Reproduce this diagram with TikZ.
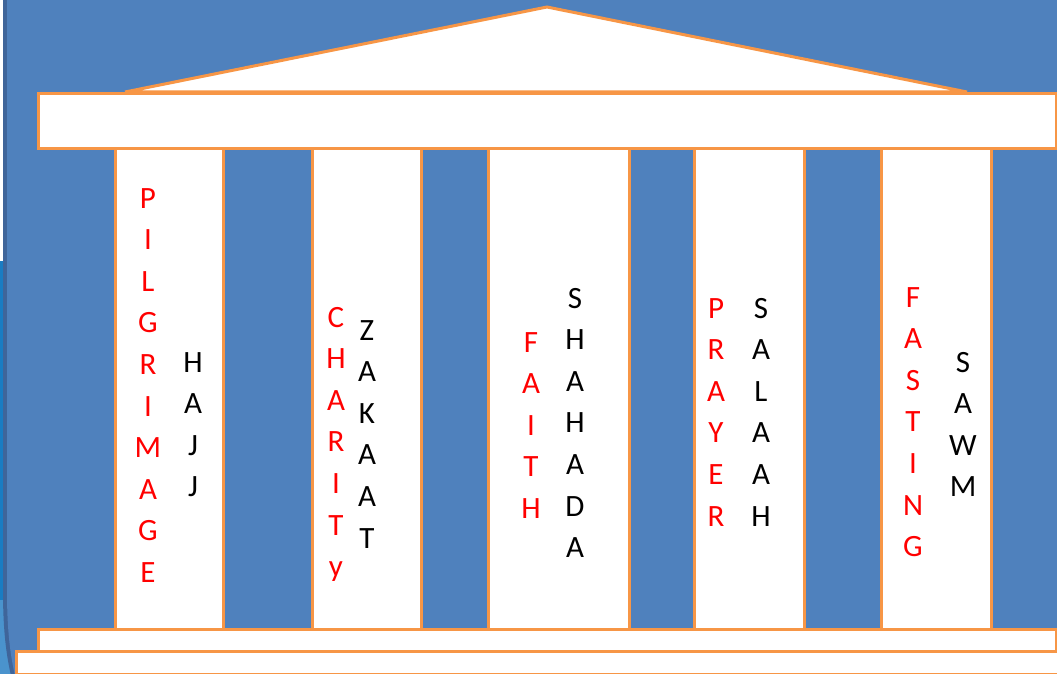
\documentclass[tikz,border=0pt]{standalone}
\usepackage{fontspec}
\setmainfont{Carlito}
\definecolor{slideblue}{HTML}{4F81BD}
\definecolor{shadowblue}{HTML}{3F659A}
\definecolor{edgeblue}{HTML}{1A7CC2}
\definecolor{lightblue}{HTML}{4A93CD}
\definecolor{pillarline}{HTML}{F79646}
\definecolor{redtext}{HTML}{FF0000}
\tikzset{
  part/.style={draw=pillarline, fill=white, line width=3pt, line join=miter},
  letters/.style={anchor=base, inner sep=0pt, font=\fontsize{31}{41.6}\selectfont},
  engl/.style={letters, text=redtext},
  arab/.style={letters, text=black}
}
\begin{document}
\begin{tikzpicture}[x=1pt,y=-1pt]
\useasboundingbox (0,0) rectangle (1057,674);
% background
\fill[white] (0,0) rectangle (1057,674);
\fill[edgeblue] (0,261) rectangle (8,674);
\fill[lightblue] (0,600) rectangle (30,674);
\fill[shadowblue] (3,-5) -- (3,590) .. controls (3,630) and (6,655) .. (12,680) -- (1060,680) -- (1060,-5) -- cycle;
\fill[slideblue] (7,-5) -- (7,590) .. controls (7,630) and (10,655) .. (16,680) -- (1060,680) -- (1060,-5) -- cycle;
% roof
\filldraw[part] (125,92) -- (547,7) -- (967,92) -- cycle;
% columns
\node[part, minimum width=108pt, minimum height=481pt, inner sep=0pt, anchor=north west] (c1) at (114,147) {};
\node[part, minimum width=109pt, minimum height=481pt, inner sep=0pt, anchor=north west] (c2) at (311,147) {};
\node[part, minimum width=141pt, minimum height=481pt, inner sep=0pt, anchor=north west] (c3) at (487,147) {};
\node[part, minimum width=110pt, minimum height=481pt, inner sep=0pt, anchor=north west] (c4) at (693,147) {};
\node[part, minimum width=110pt, minimum height=481pt, inner sep=0pt, anchor=north west] (c5) at (880,147) {};
% entablature
\node[part, minimum width=1018pt, minimum height=55pt, inner sep=0pt, anchor=north west] (beam) at (37,92) {};
% steps
\node[part, minimum width=1018pt, minimum height=22pt, inner sep=0pt, anchor=north west] (step1) at (37,628) {};
\node[part, minimum width=1060pt, minimum height=23pt, inner sep=0pt, anchor=north west] (step2) at (15,650) {};
% texts
\node[engl] (t1) at (148,208) {\begin{tabular}[t]{@{}c@{}}P\\I\\L\\G\\R\\I\\M\\A\\G\\E\end{tabular}};
\node[arab] (a1) at (193,372) {\begin{tabular}[t]{@{}c@{}}H\\A\\J\\J\end{tabular}};
\node[engl] (t2) at (336,327) {\begin{tabular}[t]{@{}c@{}}C\\H\\A\\R\\I\\T\\y\end{tabular}};
\node[arab] (a2) at (367,340) {\begin{tabular}[t]{@{}c@{}}Z\\A\\K\\A\\A\\T\end{tabular}};
\node[engl] (t3) at (531,352) {\begin{tabular}[t]{@{}c@{}}F\\A\\I\\T\\H\end{tabular}};
\node[arab] (a3) at (575,308) {\begin{tabular}[t]{@{}c@{}}S\\H\\A\\H\\A\\D\\A\end{tabular}};
\node[engl] (t4) at (716,318) {\begin{tabular}[t]{@{}c@{}}P\\R\\A\\Y\\E\\R\end{tabular}};
\node[arab] (a4) at (761,318) {\begin{tabular}[t]{@{}c@{}}S\\A\\L\\A\\A\\H\end{tabular}};
\node[engl] (t5) at (913,307) {\begin{tabular}[t]{@{}c@{}}F\\A\\S\\T\\I\\N\\G\end{tabular}};
\node[arab] (a5) at (963,372) {\begin{tabular}[t]{@{}c@{}}S\\A\\W\\M\end{tabular}};
\end{tikzpicture}
\end{document}
